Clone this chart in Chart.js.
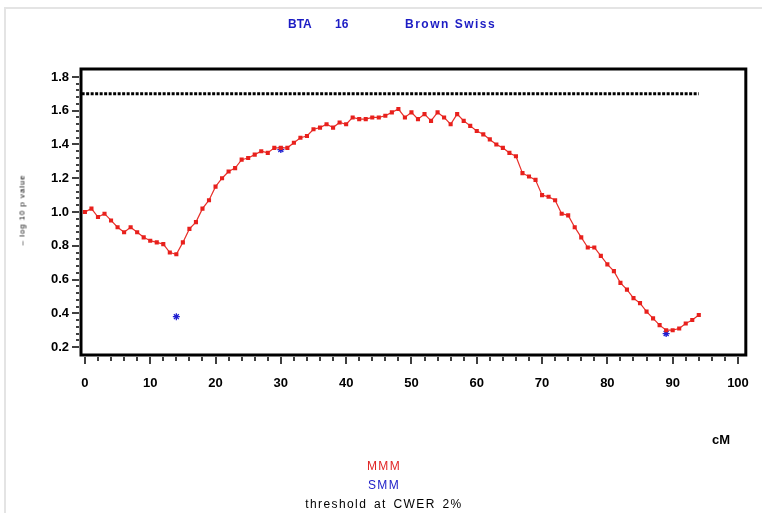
<!DOCTYPE html>
<html lang="en">
<head>
  <meta charset="utf-8" />
  <title>BTA 16 Brown Swiss</title>
  <script src="https://cdn.jsdelivr.net/npm/chart.js"></script>
  <style>
    html, body {
      margin: 0;
      padding: 0;
      background: #fff;
    }
    #wrap {
      position: relative;
      width: 762px;
      height: 513px;
      overflow: hidden;
      font-family: "Liberation Sans", Arial, sans-serif;
    }
    #frame {
      position: absolute;
      left: 4px;
      top: 7px;
      width: 800px;
      height: 600px;
      border-top: 2px solid #e4e4e4;
      border-left: 2px solid #e4e4e4;
    }
    canvas {
      position: absolute;
      left: 0;
      top: 0;
    }
    .title {
      position: absolute;
      top: 17px;
      font-weight: bold;
      font-size: 12px;
      color: #1c1cc4;
    }
    #ylabel {
      position: absolute;
      left: 22px;
      top: 210px;
      font-size: 8px;
      letter-spacing: 0.9px;
      color: #000;
      white-space: nowrap;
      transform: translate(-50%, -50%) rotate(-90deg);
    }
    #xlabel {
      position: absolute;
      left: 712px;
      top: 432px;
      font-weight: bold;
      font-size: 13px;
    }
    .legend {
      position: absolute;
      left: 0;
      width: 768px;
      text-align: center;
      font-size: 12px;
      letter-spacing: 1.4px;
      word-spacing: 2px;
    }
  </style>
</head>
<body>
  <div id="wrap">
    <div id="frame"></div>
    <canvas id="chart" width="762" height="513"></canvas>
    <div class="title" style="left:288px">BTA</div>
    <div class="title" style="left:335px">16</div>
    <div class="title" style="left:405px; letter-spacing:1.5px">Brown Swiss</div>
    <div id="ylabel">– log 10 p value</div>
    <div id="xlabel">cM</div>
    <div class="legend" style="top:459px; color:#e02424">MMM</div>
    <div class="legend" style="top:478px; color:#2020c8">SMM</div>
    <div class="legend" style="top:497px; color:#000">threshold at CWER 2%</div>
  </div>

  <script>
    // posições em cM
    const mmmX = [
      0, 1, 2, 3, 4, 5, 6, 7, 8, 9, 10, 11, 12, 13, 14, 15, 16, 17, 18, 19,
      20, 21, 22, 23, 24, 25, 26, 27, 28, 29, 30, 31, 32, 33, 34, 35, 36, 37, 38, 39,
      40, 41, 42, 43, 44, 45, 46, 47, 48, 49, 50, 51, 52, 53, 54, 55, 56, 57, 58, 59,
      60, 61, 62, 63, 64, 65, 66, 67, 68, 69, 70, 71, 72, 73, 74, 75, 76, 77, 78, 79,
      80, 81, 82, 83, 84, 85, 86, 87, 88, 89, 90, 91, 92, 93, 94
    ];
    const mmmY = [
      1.00, 1.02, 0.97, 0.99, 0.95, 0.91, 0.88, 0.91, 0.88, 0.85,
      0.83, 0.82, 0.81, 0.76, 0.75, 0.82, 0.90, 0.94, 1.02, 1.07,
      1.15, 1.20, 1.24, 1.26, 1.31, 1.32, 1.34, 1.36, 1.35, 1.38,
      1.38, 1.38, 1.41, 1.44, 1.45, 1.49, 1.50, 1.52, 1.50, 1.53,
      1.52, 1.56, 1.55, 1.55, 1.56, 1.56, 1.57, 1.59, 1.61, 1.56,
      1.59, 1.55, 1.58, 1.54, 1.59, 1.56, 1.52, 1.58, 1.54, 1.51,
      1.48, 1.46, 1.43, 1.40, 1.38, 1.35, 1.33, 1.23, 1.21, 1.19,
      1.10, 1.09, 1.07, 0.99, 0.98, 0.91, 0.85, 0.79, 0.79, 0.74,
      0.69, 0.65, 0.58, 0.54, 0.49, 0.46, 0.41, 0.37, 0.33, 0.30,
      0.30, 0.31, 0.34, 0.36, 0.39
    ];
    const smmX = [14, 30, 89];
    const smmY = [0.38, 1.37, 0.28];
    const thresholdX = [-0.5, 94];
    const thresholdY = [1.7, 1.7];

    const xTicks = [0, 10, 20, 30, 40, 50, 60, 70, 80, 90, 100];
    const yTicks = [0.2, 0.4, 0.6, 0.8, 1.0, 1.2, 1.4, 1.6, 1.8];

    const toPoints = (xs, ys) => xs.map((x, i) => ({ x: x, y: ys[i] }));

    // moldura grossa + ticks maiores/menores
    const boxPlugin = {
      id: 'box',
      afterDatasetsDraw(chart) {
        const { ctx, chartArea: a, scales } = chart;
        ctx.save();
        ctx.strokeStyle = '#000';
        ctx.lineWidth = 3;
        ctx.strokeRect(a.left, a.top, a.right - a.left, a.bottom - a.top);

        ctx.lineWidth = 1.5;
        ctx.beginPath();
        for (let v = 0; v <= 100; v += 2) {
          const px = Math.round(scales.x.getPixelForValue(v));
          const len = v % 10 === 0 ? 7 : 4;
          ctx.moveTo(px, a.bottom + 2);
          ctx.lineTo(px, a.bottom + 2 + len);
        }
        for (let i = 0; i <= 40; i++) {
          const v = 0.2 + i * 0.04;
          const py = Math.round(scales.y.getPixelForValue(v));
          const len = i % 5 === 0 ? 7 : 3;
          ctx.moveTo(a.left - 2, py);
          ctx.lineTo(a.left - 2 - len, py);
        }
        ctx.stroke();
        ctx.restore();
      }
    };

    const ctx = document.getElementById('chart').getContext('2d');

    new Chart(ctx, {
      type: 'scatter',
      data: {
        datasets: [
          {
            label: 'threshold at CWER 2%',
            data: toPoints(thresholdX, thresholdY),
            showLine: true,
            borderColor: '#000',
            borderWidth: 3,
            borderDash: [3, 1.5],
            pointRadius: 0
          },
          {
            label: 'MMM',
            data: toPoints(mmmX, mmmY),
            showLine: true,
            borderColor: '#e8302a',
            borderWidth: 1.2,
            pointStyle: 'rect',
            pointRadius: 2.9,
            pointBackgroundColor: '#e8201c',
            pointBorderColor: '#e8201c',
            pointBorderWidth: 0
          },
          {
            label: 'SMM',
            data: toPoints(smmX, smmY),
            showLine: false,
            pointStyle: 'star',
            pointRadius: 3.5,
            borderColor: '#2020d0',
            pointBorderWidth: 1.3,
            backgroundColor: '#2020d0'
          }
        ]
      },
      options: {
        responsive: false,
        animation: false,
        layout: {
          padding: { left: 0, right: 15, top: 69, bottom: 0 }
        },
        plugins: {
          legend: { display: false },
          title: { display: false },
          tooltip: { enabled: false }
        },
        scales: {
          x: {
            type: 'linear',
            min: -0.6,
            max: 101.2,
            afterBuildTicks: s => { s.ticks = xTicks.map(v => ({ value: v })); },
            afterFit: s => { s.height = 158; },
            grid: { display: false, drawTicks: true, tickLength: 8 },
            border: { display: false },
            ticks: {
              padding: 13,
              color: '#000',
              maxRotation: 0,
              font: { family: '"Liberation Sans", Arial, sans-serif', size: 13, weight: 'bold' }
            }
          },
          y: {
            type: 'linear',
            min: 0.153,
            max: 1.847,
            afterBuildTicks: s => { s.ticks = yTicks.map(v => ({ value: v })); },
            afterFit: s => { s.width = 81; },
            grid: { display: false, drawTicks: true, tickLength: 7 },
            border: { display: false },
            ticks: {
              padding: 5,
              color: '#000',
              callback: v => v.toFixed(1),
              font: { family: '"Liberation Sans", Arial, sans-serif', size: 13, weight: 'bold' }
            }
          }
        }
      },
      plugins: [boxPlugin]
    });
  </script>
</body>
</html>
